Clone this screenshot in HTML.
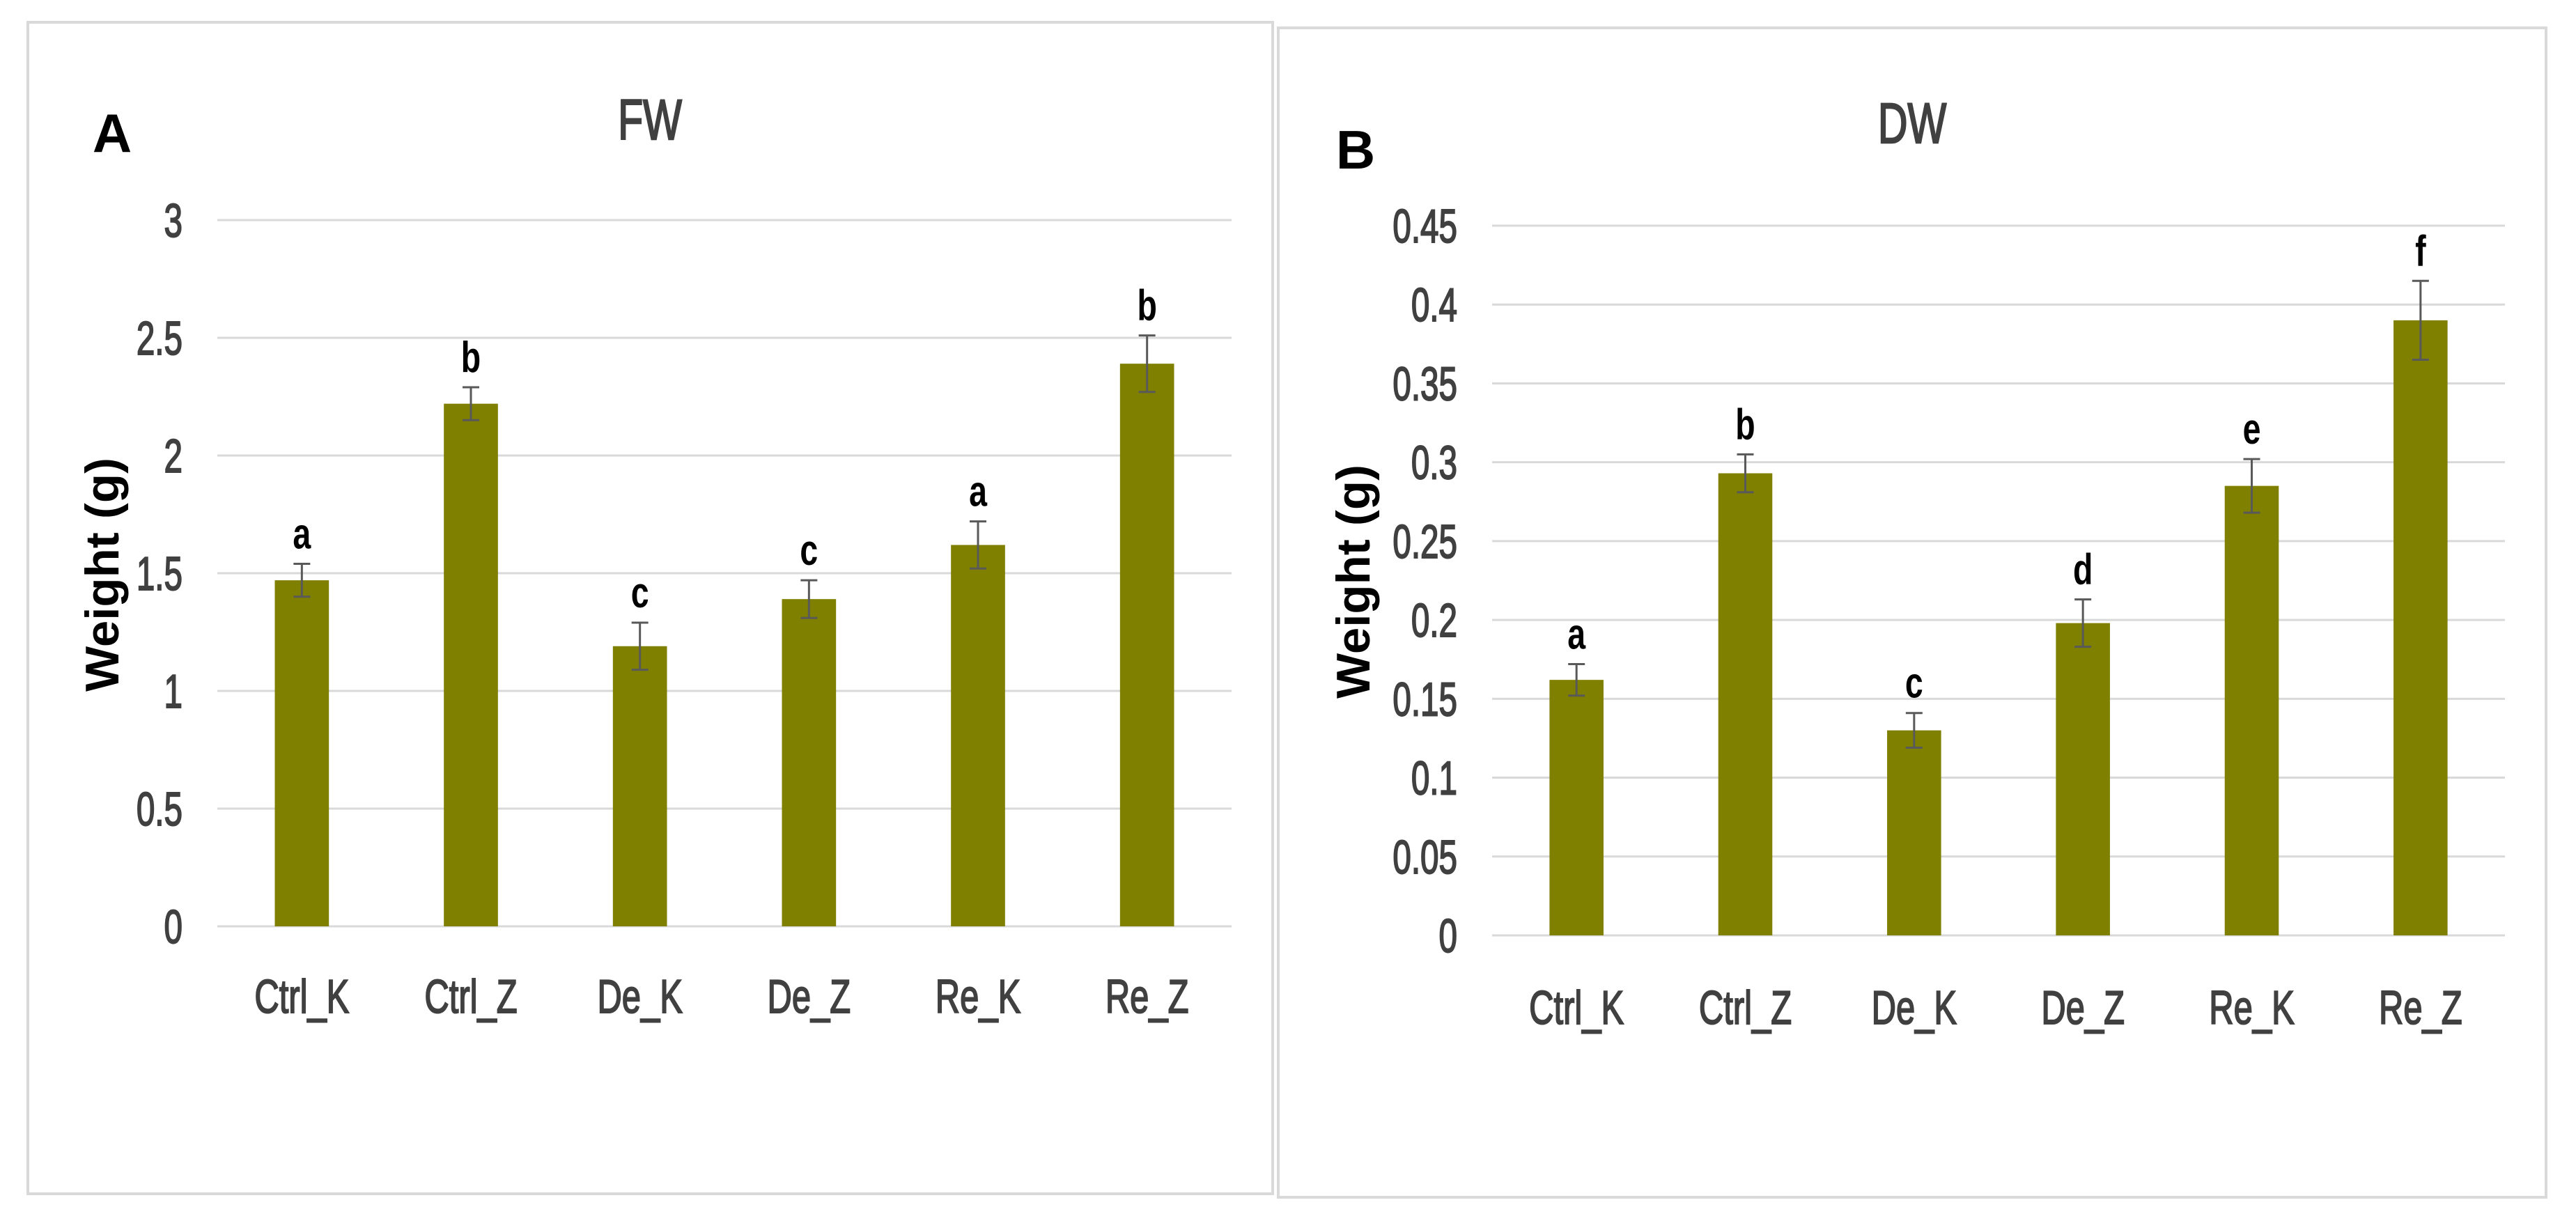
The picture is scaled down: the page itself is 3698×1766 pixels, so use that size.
<!DOCTYPE html>
<html><head><meta charset="utf-8"><style>
html,body{margin:0;padding:0;background:#fff;}
svg{display:block;}
text{font-family:"Liberation Sans",sans-serif;}
</style></head><body>
<svg id="chart" width="3698" height="1766" viewBox="0 0 3698 1766" xmlns="http://www.w3.org/2000/svg">
<rect x="0" y="0" width="3698" height="1766" fill="#fff"/>
<rect x="40" y="32" width="1787" height="1682" fill="#fff" stroke="#d9d9d9" stroke-width="4"/>
<rect x="1835" y="40" width="1820" height="1679" fill="#fff" stroke="#d9d9d9" stroke-width="4"/>
<g id="pa"></g>
<g id="pb"></g>
</svg>
<script>
const categories = ["Ctrl_K","Ctrl_Z","De_K","De_Z","Re_K","Re_Z"];
const fwValues = [1.47, 2.22, 1.19, 1.39, 1.62, 2.39];
const fwErrors = [0.07, 0.07, 0.10, 0.08, 0.10, 0.12];
const fwLetters = ["a","b","c","c","a","b"];
const fwTicks = [0, 0.5, 1, 1.5, 2, 2.5, 3];
const fwTickLabels = ["0","0.5","1","1.5","2","2.5","3"];
const dwValues = [0.162, 0.293, 0.130, 0.198, 0.285, 0.390];
const dwErrors = [0.010, 0.012, 0.011, 0.015, 0.017, 0.025];
const dwLetters = ["a","b","c","d","e","f"];
const dwTicks = [0, 0.05, 0.1, 0.15, 0.2, 0.25, 0.3, 0.35, 0.4, 0.45];
const dwTickLabels = ["0","0.05","0.1","0.15","0.2","0.25","0.3","0.35","0.4","0.45"];

const NS = "http://www.w3.org/2000/svg";
function mk(parent, tag, attrs, txt){
  const e = document.createElementNS(NS, tag);
  for (const k in attrs) e.setAttribute(k, attrs[k]);
  if (txt !== undefined) e.textContent = txt;
  parent.appendChild(e);
  return e;
}
function ctext(parent, x, y, anchor, size, weight, fill, sx, str, sw){
  const a = {x: 0, y: 0, "text-anchor": anchor, "font-size": size, "font-weight": weight, fill: fill,
    transform: `translate(${x},${y}) scale(${sx},1)`};
  if (sw) { a.stroke = fill; a["stroke-width"] = sw; }
  return mk(parent, "text", a, str);
}
function drawPanel(g, cfg){
  const x0 = cfg.x0, x1 = cfg.x1, y0 = cfg.yZero, yT = cfg.yTop, vmax = cfg.vmax;
  const yScale = v => y0 - (v / vmax) * (y0 - yT);
  const step = (x1 - x0) / cfg.cats.length;
  const xScale = i => x0 + step * (i + 0.5);
  cfg.ticks.forEach((t, i) => {
    const y = yScale(t);
    const ln = mk(g, "line", {x1: x0, x2: x1, y1: y, y2: y, stroke: "#d9d9d9", "stroke-width": 3});
    
    
    const tx = ctext(g, x0 - 50, y + 24, "end", 68, "normal", "#404040", 0.7, cfg.tickLabels[i], 2);
    
    
  });
  const bw = step * 0.32;
  cfg.cats.forEach((c, i) => {
    const cx = xScale(i);
    const v = cfg.values[i], e = cfg.errors[i];
    const bar = mk(g, "rect", {x: cx - bw / 2, y: yScale(v), width: bw, height: y0 - yScale(v), fill: "#7f7f00"});
    
    
    const yHi = yScale(v + e), yLo = yScale(v - e);
    const eb = mk(g, "path", {d: `M${cx},${yHi}V${yLo}M${cx - 12},${yHi}H${cx + 12}M${cx - 12},${yLo}H${cx + 12}`, stroke: "#595959", "stroke-width": 3, fill: "none"});
    
    
    const lt = ctext(g, cx, yHi - 22, "middle", 62, "bold", "#000", 0.75, cfg.letters[i]);
    
    
    const xl = ctext(g, cx, cfg.xLabelY, "middle", 68, "normal", "#404040", 0.72, c, 2);
    
    
  });
  const title = ctext(g, cfg.titleX, cfg.titleY, "middle", 82, "normal", "#404040", 0.72, cfg.title, 2.5);
  
  
  const pl = mk(g, "text", {x: cfg.letterX, y: cfg.letterY, "text-anchor": "middle", "font-size": 78, "font-weight": "bold", fill: "#000"}, cfg.panelLetter);
  
  
  const yt = mk(g, "text", {x: 0, y: 0, "text-anchor": "middle", "font-size": 68, "font-weight": "bold", fill: "#000",
    textLength: 336, lengthAdjust: "spacingAndGlyphs",
    transform: `translate(${cfg.yTitleX},${cfg.yTitleY}) rotate(-90)`}, "Weight (g)");
  
  
}
drawPanel(document.getElementById("pa"), {
  x0: 312, x1: 1768, yZero: 1330, yTop: 316, vmax: 3,
  cats: categories, values: fwValues, errors: fwErrors, letters: fwLetters,
  ticks: fwTicks, tickLabels: fwTickLabels,
  xLabelY: 1454, title: "FW", titleX: 933, titleY: 200,
  panelLetter: "A", letterX: 161, letterY: 218, yTitleX: 170, yTitleY: 825
});
drawPanel(document.getElementById("pb"), {
  x0: 2142, x1: 3596, yZero: 1343, yTop: 324, vmax: 0.45,
  cats: categories, values: dwValues, errors: dwErrors, letters: dwLetters,
  ticks: dwTicks, tickLabels: dwTickLabels,
  xLabelY: 1470, title: "DW", titleX: 2745, titleY: 205,
  panelLetter: "B", letterX: 1946, letterY: 242, yTitleX: 1966, yTitleY: 835
});
</script>
</body></html>
